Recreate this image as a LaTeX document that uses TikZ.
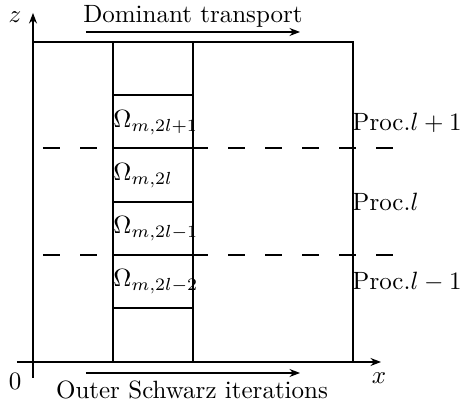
\documentclass[tikz,border=0pt]{standalone}
\usetikzlibrary{arrows.meta}
\begin{document}
\begin{tikzpicture}[x=0.4pt,y=-0.4pt,
  thinline/.style={line width=0.42pt},
  axis/.style={thinline,-{Stealth[length=4.2pt,width=3.2pt]}},
  split/.style={thinline,dash pattern=on 6.8pt off 8pt},
  cellname/.style={anchor=west,inner sep=0pt},
  proclabel/.style={anchor=west,inner sep=0pt}]
\useasboundingbox (0,0) rectangle (462,404);
% axes
\coordinate (xs) at (17,362);
\coordinate (xe) at (381,362);
\coordinate (zs) at (33,378);
\coordinate (ze) at (33,13);
\draw[axis] (xs) -- (xe);
\draw[axis] (zs) -- (ze);
\node[inner sep=0pt] (orig) at (15,381) {$0$};
\node[inner sep=0pt] (xl) at (379,378) {$x$};
\node[inner sep=0pt] (zl) at (15,17) {$z$};
% outer domain
\draw[thinline] (33,42) rectangle (353,362);
% column of subdomains
\draw[thinline] (113,42) -- (113,362);
\draw[thinline] (193,42) -- (193,362);
\foreach \y in {95,148,202,255,308}
  \draw[thinline] (113,\y) -- (193,\y);
% processor boundaries
\draw[split] (43,148) -- (396,148);
\draw[split] (43,255) -- (396,255);
% subdomain names
\node[cellname] (o1) at (113,123) {$\Omega_{m,2l+1}$};
\node[cellname] (o2) at (113,176) {$\Omega_{m,2l}$};
\node[cellname] (o3) at (113,229) {$\Omega_{m,2l-1}$};
\node[cellname] (o4) at (113,282) {$\Omega_{m,2l-2}$};
% processor names
\node[proclabel] (p1) at (352,123) {Proc.$l+1$};
\node[proclabel] (p2) at (352,202) {Proc.$l$};
\node[proclabel] (p3) at (352,282) {Proc.$l-1$};
% direction labels
\node[inner sep=0pt] (dom) at (193,16) {Dominant transport};
\coordinate (da) at (86,32);
\coordinate (db) at (300,32);
\draw[axis] (da) -- (db);
\node[inner sep=0pt] (osi) at (192,390) {Outer Schwarz iterations};
\coordinate (oa) at (86,373);
\coordinate (ob) at (300,373);
\draw[axis] (oa) -- (ob);
\end{tikzpicture}
\end{document}
